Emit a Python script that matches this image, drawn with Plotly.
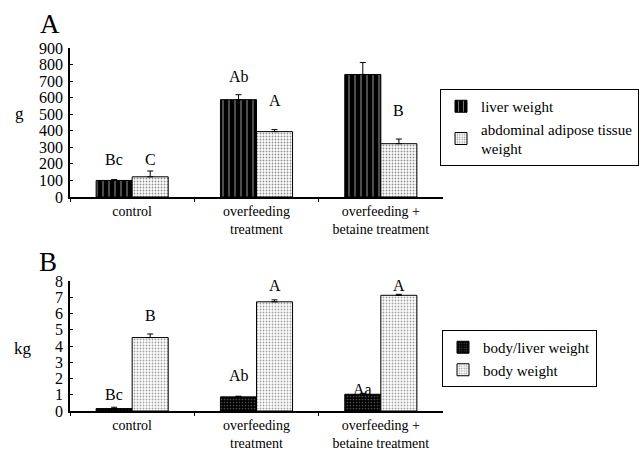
import plotly.graph_objects as go

categories = ["control", "overfeeding<br>treatment", "overfeeding +<br>betaine treatment"]

liver_weight = [100, 588, 740]
liver_err = [5, 30, 72]
adipose_weight = [122, 395, 322]
adipose_err = [35, 12, 28]

bodyliver = [0.15, 0.87, 1.03]
bodyliver_err = [0.08, 0.04, 0.06]
body_weight = [4.52, 6.72, 7.12]
body_err = [0.22, 0.12, 0.06]

labels_liver = ["Bc", "Ab", "Aa"]
labels_liver_y = [225, 725, 935]
labels_adipose = ["C", "A", "B"]
labels_adipose_y = [225, 585, 520]
labels_bl = ["Bc", "Ab", "Aa"]
labels_bl_y = [1.0, 2.2, 1.35]
labels_bw = ["B", "A", "A"]
labels_bw_y = [5.9, 7.7, 7.7]

FONT = "Liberation Serif, Times New Roman, serif"

fig = go.Figure()

fig.add_trace(go.Bar(
    x=categories, y=liver_weight, name="liver weight",
    marker=dict(color="black", line=dict(color="black", width=1),
                pattern=dict(shape="|", bgcolor="black", fgcolor="white", size=6, solidity=0.2)),
    error_y=dict(type="data", symmetric=False, array=liver_err, arrayminus=[0, 0, 0],
                 color="black", thickness=1, width=3),
    xaxis="x", yaxis="y", legend="legend",
))
fig.add_trace(go.Bar(
    x=categories, y=adipose_weight, name="abdominal adipose tissue<br>weight",
    marker=dict(color="white", line=dict(color="black", width=1),
                pattern=dict(shape=".", bgcolor="white", fgcolor="#222", size=3, solidity=0.3)),
    error_y=dict(type="data", symmetric=False, array=adipose_err, arrayminus=[0, 0, 0],
                 color="black", thickness=1, width=3),
    xaxis="x", yaxis="y", legend="legend",
))
fig.add_trace(go.Bar(
    x=categories, y=bodyliver, name="body/liver weight",
    marker=dict(color="black", line=dict(color="black", width=1),
                pattern=dict(shape=".", bgcolor="black", fgcolor="#999", size=3, solidity=0.25)),
    error_y=dict(type="data", symmetric=False, array=bodyliver_err, arrayminus=[0, 0, 0],
                 color="black", thickness=1, width=3),
    xaxis="x2", yaxis="y2", legend="legend2",
))
fig.add_trace(go.Bar(
    x=categories, y=body_weight, name="body weight",
    marker=dict(color="white", line=dict(color="black", width=1),
                pattern=dict(shape=".", bgcolor="white", fgcolor="#444", size=3, solidity=0.3)),
    error_y=dict(type="data", symmetric=False, array=body_err, arrayminus=[0, 0, 0],
                 color="black", thickness=1, width=3),
    xaxis="x2", yaxis="y2", legend="legend2",
))

LBL = dict(size=16, family=FONT, color="black")
ann = []
for i, c in enumerate(categories):
    ann.append(dict(x=c, y=labels_liver_y[i], text=labels_liver[i], xref="x", yref="y",
                    xshift=-18, showarrow=False, font=LBL))
    ann.append(dict(x=c, y=labels_adipose_y[i], text=labels_adipose[i], xref="x", yref="y",
                    xshift=18, showarrow=False, font=LBL))
    ann.append(dict(x=c, y=labels_bl_y[i], text=labels_bl[i], xref="x2", yref="y2",
                    xshift=-18, showarrow=False, font=LBL))
    ann.append(dict(x=c, y=labels_bw_y[i], text=labels_bw[i], xref="x2", yref="y2",
                    xshift=18, showarrow=False, font=LBL))

W, H = 644, 452
def px(x):
    return x / W
def py(y):
    return 1 - y / H

ann += [
    dict(x=px(50), y=py(24), xref="paper", yref="paper", text="A", showarrow=False,
         xanchor="center", yanchor="middle", font=dict(size=27, family=FONT, color="black")),
    dict(x=px(48), y=py(262), xref="paper", yref="paper", text="B", showarrow=False,
         xanchor="center", yanchor="middle", font=dict(size=27, family=FONT, color="black")),
    dict(x=px(19), y=py(113), xref="paper", yref="paper", text="g", showarrow=False,
         xanchor="center", yanchor="middle", font=dict(size=17, family=FONT, color="black")),
    dict(x=px(23), y=py(348), xref="paper", yref="paper", text="kg", showarrow=False,
         xanchor="center", yanchor="middle", font=dict(size=17, family=FONT, color="black")),
]

xaxis_common = dict(
    showline=True, linecolor="black", linewidth=1.5, ticks="outside", tickson="boundaries",
    ticklen=3, tickcolor="black", showgrid=False, domain=[px(70), px(443)], automargin=False,
    tickfont=dict(size=14, family=FONT, color="black"), ticklabelstandoff=0,
)
yaxis_common = dict(
    showline=True, linecolor="black", linewidth=1.5, ticks="inside", ticklen=3,
    tickcolor="black", showgrid=False, zeroline=False, automargin=False,
    tickfont=dict(size=16, family=FONT, color="black"), ticklabelstandoff=2,
)

fig.update_layout(
    width=W, height=H,
    margin=dict(l=0, r=0, t=0, b=0, autoexpand=False),
    paper_bgcolor="white", plot_bgcolor="white",
    barmode="group", bargap=0.42, bargroupgap=0,
    font=dict(family=FONT, color="black"),
    xaxis=dict(**xaxis_common, anchor="y"),
    yaxis=dict(**yaxis_common, domain=[py(197), py(48)], range=[0, 900], dtick=100, anchor="x"),
    xaxis2=dict(**xaxis_common, anchor="y2"),
    yaxis2=dict(**yaxis_common, domain=[py(411), py(281)], range=[0, 8], dtick=1, anchor="x2"),
    legend=dict(x=px(440), y=py(89), xanchor="left", yanchor="top",
                bordercolor="black", borderwidth=1, bgcolor="white",
                font=dict(size=15, family=FONT, color="black"), itemwidth=30),
    legend2=dict(x=px(442), y=py(330), xanchor="left", yanchor="top",
                 bordercolor="black", borderwidth=1, bgcolor="white",
                 font=dict(size=15, family=FONT, color="black"), itemwidth=30,
                 tracegroupgap=0),
    annotations=ann,
    showlegend=True,
)

fig.write_html("out.html", config={"displayModeBar": False},
               post_script="document.body.style.margin='0';document.body.style.padding='0';")
